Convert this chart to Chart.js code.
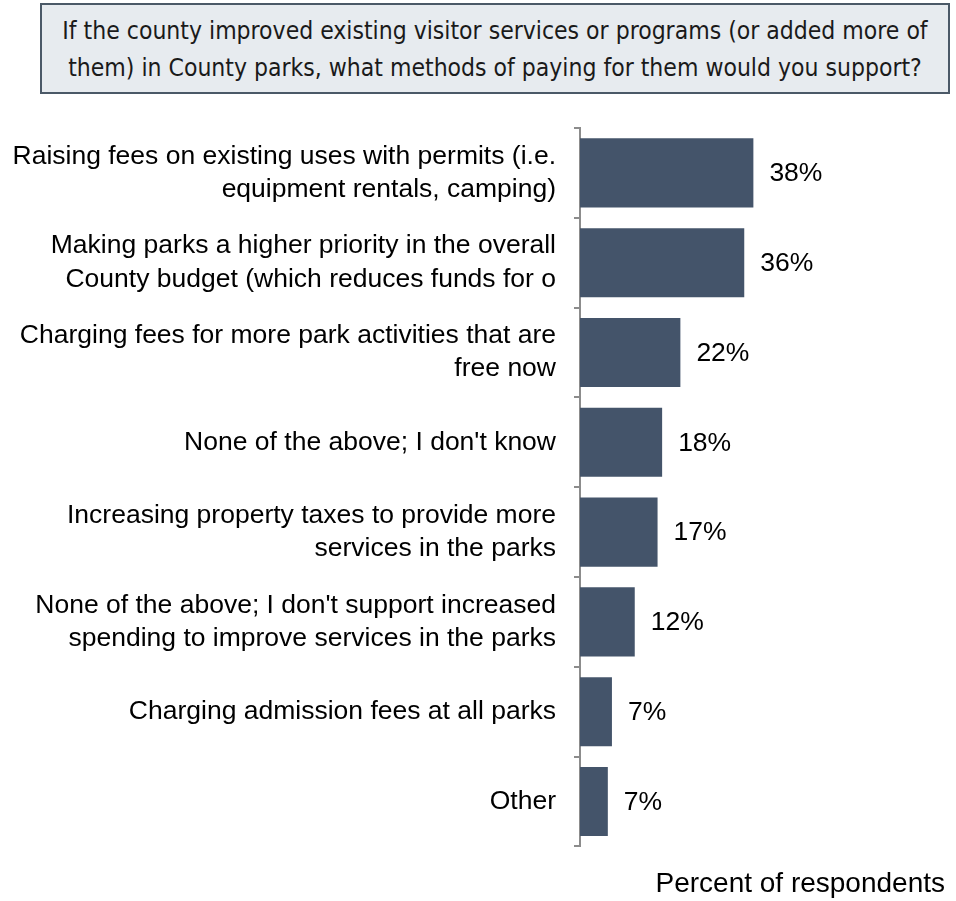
<!DOCTYPE html>
<html>
<head>
<meta charset="utf-8">
<script src="https://cdn.jsdelivr.net/npm/chart.js@4"></script>
<style>
  body { margin: 0; background: #fff; }
  #titleBox {
    position: absolute; left: 40px; top: 3px; width: 906px; height: 87px;
    background: #e7ebef; border: 2.5px solid #4b5967;
    font-family: "Liberation Sans Narrow", "DejaVu Sans Condensed", sans-serif;
    font-size: 24.5px; color: #1a1a1a; text-align: center; line-height: 37px;
    display: flex; align-items: center; justify-content: center;
  }
  #wrap { position: absolute; left: 0; top: 0; width: 956px; height: 901px; }
</style>
</head>
<body>
<div id="titleBox">If the county improved existing visitor services or programs (or added more of<br>them) in County parks, what methods of paying for them would you support?</div>
<div id="wrap"><canvas id="chart"></canvas></div>
<script>
// categories, top to bottom
const categories = [
  ["Raising fees on existing uses with permits (i.e.", "equipment rentals, camping)"],
  ["Making parks a higher priority in the overall", "County budget (which reduces funds for o"],
  ["Charging fees for more park activities that are", "free now"],
  "None of the above; I don't know",
  ["Increasing property taxes to provide more", "services in the parks"],
  ["None of the above; I don't support increased", "spending to improve services in the parks"],
  "Charging admission fees at all parks",
  "Other"
];
// percent of respondents
const values = [38, 36, 22, 18, 17, 12, 7, 6.1];
// labels as printed next to the bars
const valueLabels = ["38%", "36%", "22%", "18%", "17%", "12%", "7%", "7%"];

const barLabels = {
  id: "barLabels",
  afterDatasetsDraw(chart) {
    const ctx = chart.ctx;
    const meta = chart.getDatasetMeta(0);
    ctx.save();
    ctx.font = "26.5px 'Liberation Sans', Arial, sans-serif";
    ctx.fillStyle = "#000";
    ctx.textAlign = "left";
    ctx.textBaseline = "middle";
    meta.data.forEach((bar, i) => {
      ctx.fillText(valueLabels[i], bar.x + 16, bar.y + 1);
    });
    ctx.restore();
  }
};

new Chart(document.getElementById("chart").getContext("2d"), {
  type: "bar",
  data: {
    labels: categories,
    datasets: [{
      data: values,
      backgroundColor: "#44546a",
      barPercentage: 0.77,
      categoryPercentage: 1
    }]
  },
  options: {
    indexAxis: "y",
    responsive: true,
    maintainAspectRatio: false,
    animation: false,
    layout: { padding: { top: 128, right: 11, left: 0, bottom: 0 } },
    plugins: { legend: { display: false }, tooltip: { enabled: false } },
    scales: {
      x: {
        min: 0,
        max: 80,
        ticks: { display: false },
        grid: { display: false, drawTicks: false },
        border: { display: false },
        title: {
          display: true,
          text: "Percent of respondents",
          align: "end",
          color: "#000",
          font: { family: "'Liberation Sans', Arial, sans-serif", size: 28, lineHeight: 1.2 },
          padding: { top: 21, bottom: 0 }
        }
      },
      y: {
        afterFit(scale) { scale.width = 580; },
        ticks: {
          color: "#000",
          font: { family: "'Liberation Sans', Arial, sans-serif", size: 26.5, lineHeight: 1.25 },
          padding: 18
        },
        grid: {
          offset: true,
          drawOnChartArea: false,
          tickLength: 6,
          color: "#8c8c8c",
          lineWidth: 2
        },
        border: { display: true, color: "#8c8c8c", width: 2 }
      }
    }
  },
  plugins: [barLabels]
});
</script>
</body>
</html>
